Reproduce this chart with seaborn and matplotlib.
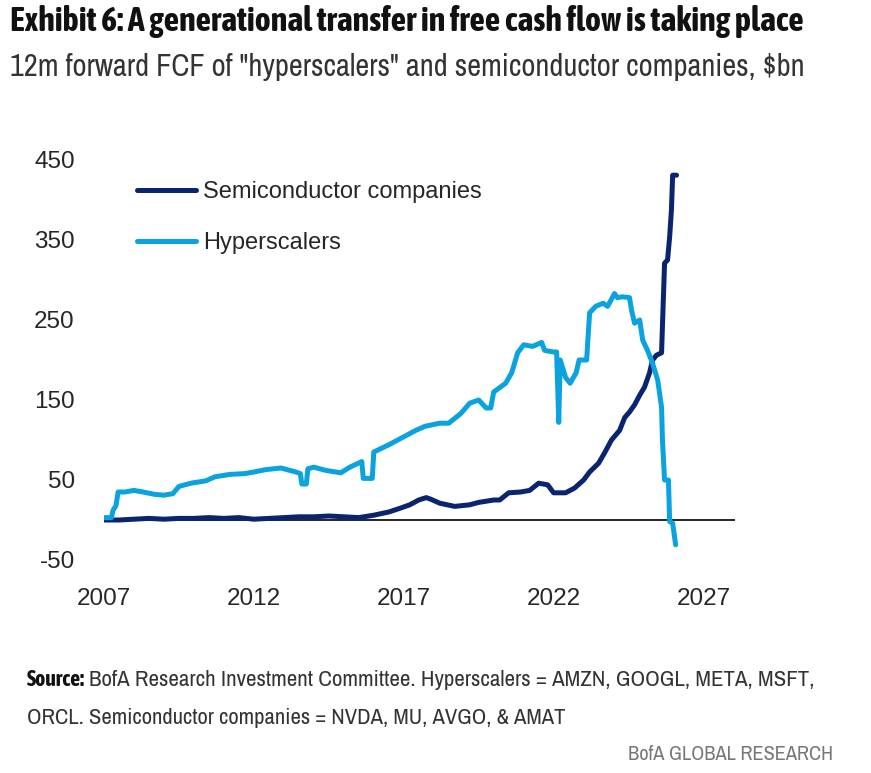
import seaborn as sns
import matplotlib.pyplot as plt
import pandas as pd
from matplotlib import font_manager

# 12m forward FCF, $bn
hyper_year = [2007.0, 2007.25, 2007.3, 2007.4, 2007.47, 2007.7, 2008.0, 2008.3, 2008.7, 2009.0,
              2009.3, 2009.5, 2009.9, 2010.4, 2010.7, 2011.2, 2011.7, 2012.0, 2012.4, 2012.9,
              2013.4, 2013.55, 2013.6, 2013.75, 2013.8, 2014.0, 2014.4, 2014.9, 2015.2, 2015.6,
              2015.65, 2015.95, 2016.0, 2016.5, 2017.0, 2017.4, 2017.7, 2018.2, 2018.5, 2018.9,
              2019.2, 2019.5, 2019.75, 2019.9, 2020.0, 2020.4, 2020.6, 2020.8, 2021.0, 2021.3,
              2021.6, 2021.7, 2022.0, 2022.1, 2022.17, 2022.22, 2022.4, 2022.55, 2022.75, 2022.85,
              2023.1, 2023.2, 2023.4, 2023.65, 2023.8, 2024.03, 2024.13, 2024.3, 2024.53, 2024.6,
              2024.7, 2024.87, 2024.97, 2025.13, 2025.3, 2025.47, 2025.6, 2025.63, 2025.7, 2025.83,
              2025.87, 2025.97, 2026.07]
hyper_fcf = [3, 3, 12, 18, 35, 35, 37, 35, 32, 31,
             33, 42, 46, 49, 54, 57, 58, 60, 63, 65,
             60, 58, 45, 45, 64, 66, 62, 59, 66, 73,
             52, 52, 85, 94, 104, 112, 117, 121, 121, 133,
             146, 150, 140, 140, 160, 171, 184, 209, 219, 217,
             222, 212, 210, 210, 122, 200, 178, 171, 184, 200,
             200, 259, 267, 271, 267, 283, 278, 279, 278, 262,
             246, 250, 225, 212, 196, 175, 141, 100, 50, 50,
             -2, -4, -31]

semi_year = [2007.0, 2007.5, 2008.0, 2008.5, 2009.0, 2009.5, 2010.0, 2010.5, 2011.0, 2011.5,
             2012.0, 2012.5, 2013.0, 2013.5, 2014.0, 2014.5, 2015.0, 2015.5, 2016.0, 2016.5,
             2016.9, 2017.2, 2017.5, 2017.75, 2017.9, 2018.2, 2018.7, 2019.2, 2019.5, 2020.0,
             2020.2, 2020.5, 2020.9, 2021.2, 2021.5, 2021.8, 2022.0, 2022.4, 2022.7, 2023.0,
             2023.2, 2023.5, 2023.7, 2023.93, 2024.2, 2024.37, 2024.53, 2024.7, 2024.87, 2025.03,
             2025.2, 2025.3, 2025.43, 2025.6, 2025.7, 2025.8, 2025.87, 2025.93, 2025.97, 2026.1]
semi_fcf = [0, 0, 1, 2, 1, 2, 2, 3, 2, 3,
            1, 2, 3, 4, 4, 5, 4, 3, 6, 10,
            15, 19, 25, 28, 26, 21, 17, 19, 22, 25,
            25, 34, 35, 37, 46, 44, 34, 34, 40, 50,
            60, 71, 84, 100, 112, 128, 135, 144, 156, 166,
            184, 200, 206, 209, 321, 325, 354, 388, 431, 431]

x_ticks = [2007, 2012, 2017, 2022, 2027]
y_ticks = [-50, 50, 150, 250, 350, 450]

navy = '#0b2470'
light_blue = '#0aa3e0'

df = pd.concat([
    pd.DataFrame({'year': semi_year, 'fcf': semi_fcf, 'series': 'Semiconductor companies'}),
    pd.DataFrame({'year': hyper_year, 'fcf': hyper_fcf, 'series': 'Hyperscalers'}),
])

sns.set_style('white')
plt.rcParams['font.family'] = ['Liberation Sans', 'DejaVu Sans']
plt.rcParams['axes.unicode_minus'] = False

# look for narrow/condensed faces for the header and footer (a bold one for the title)
cond = [f for f in font_manager.fontManager.ttflist
        if 'condensed' in f.name.lower() or 'narrow' in f.name.lower()]
cond_names = sorted({f.name for f in cond})
bold_names = sorted({f.name for f in cond if f.weight in ('bold', 700, 600, 'semibold', 'demibold', 800)})
narrow = cond_names[:1] + ['DejaVu Sans']
narrow_bold = bold_names[:1] + narrow

fig = plt.figure(figsize=(8.71, 7.73), dpi=100)
ax = fig.add_axes([104 / 871, 1 - 560 / 773, (735 - 104) / 871, 400 / 773])

sns.lineplot(data=df, x='year', y='fcf', hue='series', sort=False, estimator=None,
             palette={'Semiconductor companies': navy, 'Hyperscalers': light_blue},
             linewidth=3.6, ax=ax)
ax.axhline(0, color='black', linewidth=1.2, zorder=1)

ax.set_xlim(2007, 2028.05)
ax.set_ylim(-50, 450)
ax.set_xticks(x_ticks)
ax.set_yticks(y_ticks)
ax.tick_params(axis='both', length=0, labelsize=17.5)
ax.tick_params(axis='y', pad=21)
ax.tick_params(axis='x', pad=20.5)
ax.set_xlabel('')
ax.set_ylabel('')
sns.despine(ax=ax, left=True, bottom=True)

leg = ax.legend(loc='upper left', bbox_to_anchor=(137 / 871, 1 - 181 / 773), bbox_transform=fig.transFigure,
                frameon=False, fontsize=17, handlelength=2.5, handletextpad=0.3, labelspacing=1.22,
                borderpad=0, borderaxespad=0)
for h in leg.get_lines():
    h.set_solid_capstyle('round')


def fit_text(x, y, s, width_px, size, family=None, **kw):
    # scale the font so the text spans the width it has in the reference
    t = fig.text(x, y, s, family=family or narrow, fontsize=size, va='center', **kw)
    fig.canvas.draw()
    w = t.get_window_extent(renderer=fig.canvas.get_renderer()).width
    t.set_fontsize(min(size * width_px / w, size * 1.35))
    return t


fit_text(10 / 871, 1 - 22 / 773, 'Exhibit 6: A generational transfer in free cash flow is taking place',
         793, 19, family=narrow_bold, fontweight='bold', ha='left', color='#111111')
fit_text(10 / 871, 1 - 67 / 773, '12m forward FCF of "hyperscalers" and semiconductor companies, $bn',
         793, 19.5, ha='left', color='#333333')

# footer
src = fit_text(27 / 871, 1 - 680 / 773, 'Source:', 58, 15.5, family=narrow_bold, fontweight='bold',
               ha='left', color='#111111')
fig.canvas.draw()
bb = src.get_window_extent(renderer=fig.canvas.get_renderer())
fit_text(bb.x1 / 871 + 4 / 871, 1 - 680 / 773,
         'BofA Research Investment Committee. Hyperscalers = AMZN, GOOGL, META, MSFT,',
         812 - bb.x1 - 4, 15.5, ha='left', color='#333333')
fit_text(27 / 871, 1 - 718 / 773, 'ORCL. Semiconductor companies = NVDA, MU, AVGO, & AMAT',
         536, 15.5, ha='left', color='#333333')
fit_text(833 / 871, 1 - 755 / 773, 'BofA GLOBAL RESEARCH', 205, 15.5, ha='right', color='#777777')

fig.savefig('out.png', dpi=100)
